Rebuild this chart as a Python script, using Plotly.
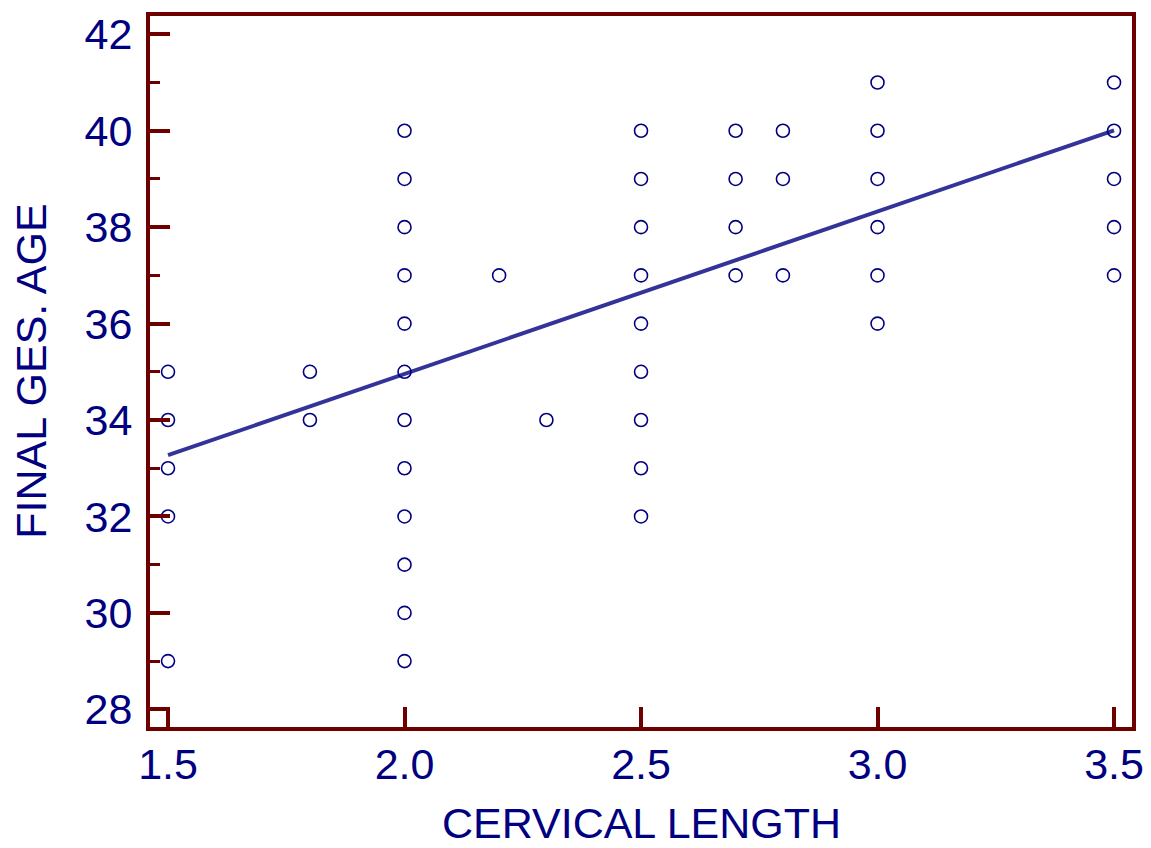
import numpy as np
import plotly.graph_objects as go

# Observations: cervical length (cm) vs final gestational age (weeks)
cervical_length = [
    1.5, 1.5, 1.5, 1.5, 1.5,
    1.8, 1.8,
    2.0, 2.0, 2.0, 2.0, 2.0, 2.0, 2.0, 2.0, 2.0, 2.0, 2.0, 2.0,
    2.2,
    2.3,
    2.5, 2.5, 2.5, 2.5, 2.5, 2.5, 2.5, 2.5, 2.5,
    2.7, 2.7, 2.7, 2.7,
    2.8, 2.8, 2.8,
    3.0, 3.0, 3.0, 3.0, 3.0, 3.0,
    3.5, 3.5, 3.5, 3.5, 3.5,
]
final_ges_age = [
    35, 34, 33, 32, 29,
    35, 34,
    40, 39, 38, 37, 36, 35, 34, 33, 32, 31, 30, 29,
    37,
    34,
    40, 39, 38, 37, 36, 35, 34, 33, 32,
    40, 39, 38, 37,
    40, 39, 37,
    41, 40, 39, 38, 37, 36,
    41, 40, 39, 38, 37,
]

# Least-squares line coefficients (intercept, slope)
fit_intercept = 28.215
fit_slope = 3.37
fit_x = [1.5, 3.5]

x_ticks = [1.5, 2.0, 2.5, 3.0, 3.5]
x_tick_text = ["1.5", "2.0", "2.5", "3.0", "3.5"]
y_ticks = [28, 30, 32, 34, 36, 38, 40, 42]

x_title = "CERVICAL LENGTH"
y_title = "FINAL GES. AGE"

NAVY = "#000080"
FRAME = "#6e0000"
LINE = "#333399"
FONT = "Liberation Sans, Arial, sans-serif"
FS = 43

fit_y = [fit_intercept + fit_slope * v for v in fit_x]

fig = go.Figure()
fig.add_trace(go.Scatter(
    x=fit_x, y=fit_y, mode="lines",
    line=dict(color=LINE, width=4),
    hoverinfo="skip", showlegend=False,
))
fig.add_trace(go.Scatter(
    x=cervical_length, y=final_ges_age, mode="markers",
    marker=dict(symbol="circle-open", size=13, color=NAVY,
                line=dict(width=1.6, color=NAVY)),
    showlegend=False,
))

axis_common = dict(
    showline=True, mirror=True, linecolor=FRAME, linewidth=4,
    ticks="inside", tickcolor=FRAME, tickwidth=4, ticklen=20,
    showgrid=False, zeroline=False, automargin=False,
    tickfont=dict(family=FONT, size=FS, color=NAVY),
)

fig.update_xaxes(
    range=[1.4619, 3.538],
    tickvals=x_ticks, ticktext=x_tick_text,
    ticklabelstandoff=-4,
    **axis_common,
)
fig.update_yaxes(
    range=[27.633, 42.38],
    tickvals=y_ticks,
    ticklabelstandoff=5,
    minor=dict(ticks="inside", ticklen=10, tickwidth=3, tickcolor=FRAME, dtick=1,
               tick0=28, showgrid=False),
    **axis_common,
)

# Axis titles placed in paper coordinates
fig.add_annotation(
    text=x_title, xref="paper", yref="paper", x=0.5, y=-0.1695,
    xanchor="center", yanchor="bottom", showarrow=False, borderpad=0,
    font=dict(family=FONT, size=FS, color=NAVY),
)
fig.add_annotation(
    text=y_title, xref="paper", yref="paper", x=-0.122, y=0.5,
    xanchor="center", yanchor="middle", showarrow=False, textangle=-90,
    font=dict(family=FONT, size=FS, color=NAVY),
)

fig.update_layout(
    width=1151, height=848,
    margin=dict(l=150, r=19, t=16, b=121),
    plot_bgcolor="white", paper_bgcolor="white",
    font=dict(family=FONT, color=NAVY),
)

fig.write_html("out.html")
